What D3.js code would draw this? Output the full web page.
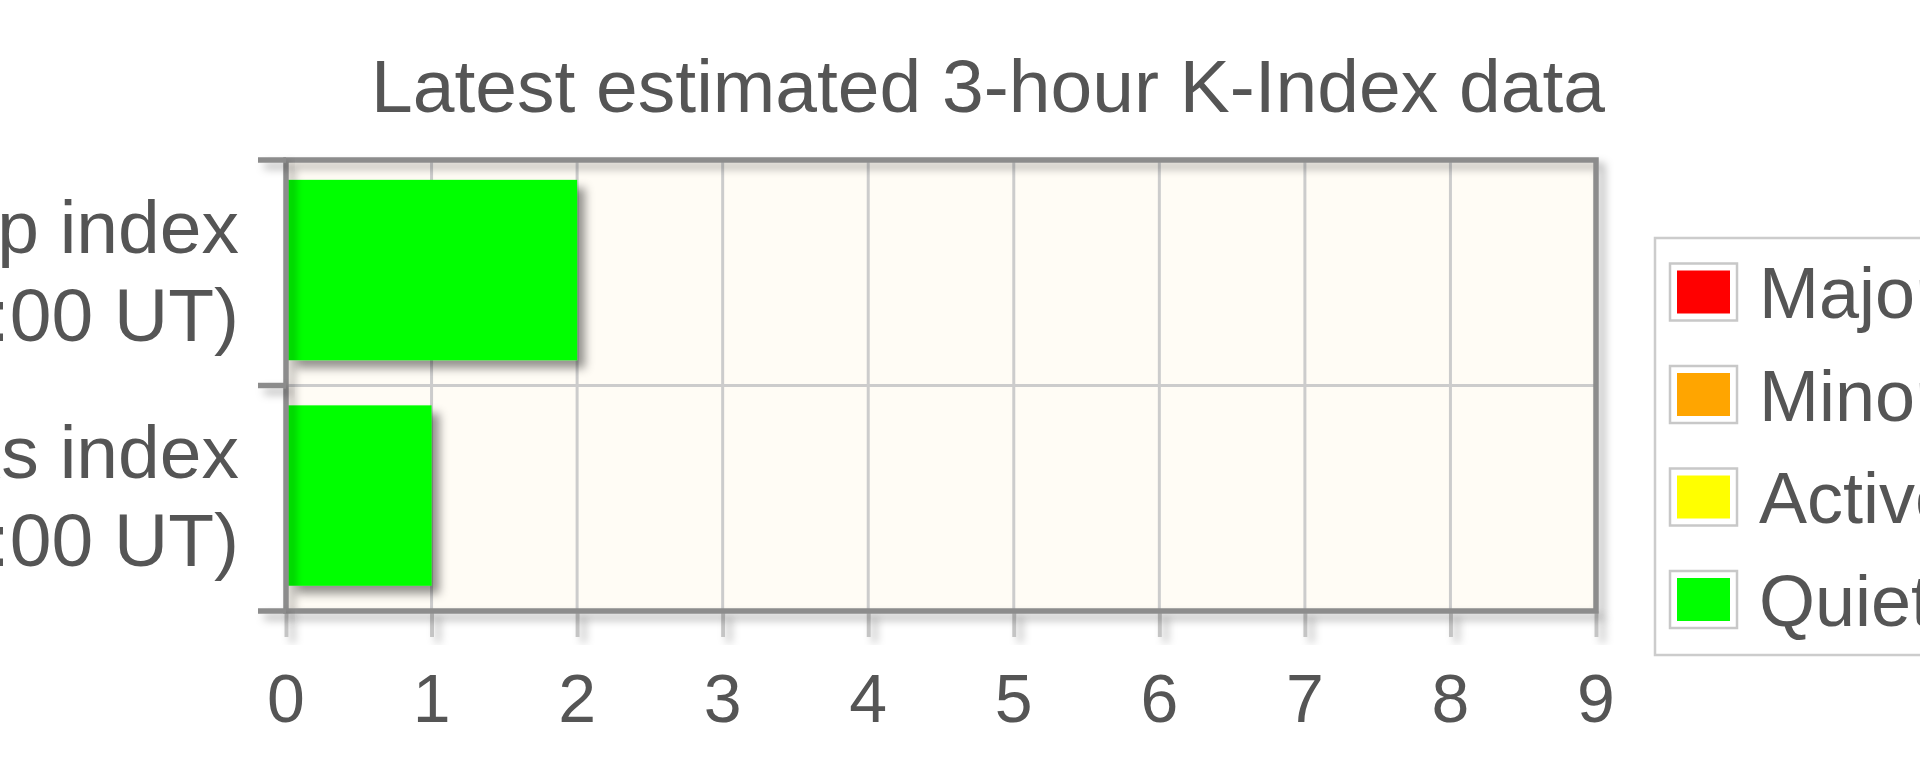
<!DOCTYPE html>
<html>
<head>
<meta charset="utf-8">
<script src="https://cdn.jsdelivr.net/npm/d3@7"></script>
<style>
  html, body { margin: 0; padding: 0; background: #fff; overflow: hidden; }
  text { font-family: "Liberation Sans", Arial, sans-serif; fill: #555; }
</style>
</head>
<body>
<svg id="chart" width="1920" height="768"></svg>
<script>
// data
var titleText = "Latest estimated 3-hour K-Index data";
var categories = ["Planetary Kp index", "Boulder Ks index"];
var categoryTimes = ["(12:00 UT)", "(12:00 UT)"];
var kValues = [2, 1];
var xTicks = [0, 1, 2, 3, 4, 5, 6, 7, 8, 9];
var levelNames = ["Major storm", "Minor storm", "Active", "Quiet"];
var levelColors = ["#ff0000", "#ffa500", "#ffff00", "#00ff00"];
var levelThresholds = [4, 5, 6]; // K below 4 quiet, 4 active, 5 minor, 6+ major

var plot = {left: 286, right: 1596, top: 160, bottom: 611};

var svg = d3.select("#chart");

var defs = svg.append("defs");
defs.append("filter").attr("id", "shadow")
    .attr("x", "-20%").attr("y", "-20%").attr("width", "150%").attr("height", "150%")
  .append("feDropShadow")
    .attr("dx", 8).attr("dy", 8).attr("stdDeviation", 5)
    .attr("flood-color", "#000").attr("flood-opacity", 0.42);
defs.append("filter").attr("id", "lineShadow")
    .attr("x", "-20%").attr("y", "-20%").attr("width", "150%").attr("height", "150%")
  .append("feDropShadow")
    .attr("dx", 6).attr("dy", 6).attr("stdDeviation", 4.5)
    .attr("flood-color", "#000").attr("flood-opacity", 0.3);

var x = d3.scaleLinear().domain([0, 9]).range([plot.left, plot.right]);
var yCat = d3.scaleBand().domain(categories).range([plot.top, plot.bottom]);
var yBar = d3.scaleBand().domain(categories).range([plot.top, plot.bottom])
    .paddingInner(0.2).paddingOuter(0.1).align(0.44);

var levelColor = d3.scaleThreshold().domain(levelThresholds)
    .range(levelColors.slice().reverse());

// plot background
svg.append("rect")
    .attr("x", plot.left).attr("y", plot.top)
    .attr("width", plot.right - plot.left).attr("height", plot.bottom - plot.top)
    .attr("fill", "#fffcf5");

// vertical grid lines
svg.append("g").selectAll("line")
    .data(xTicks.slice(1, -1))
    .enter().append("line")
    .attr("x1", d => x(d)).attr("x2", d => x(d))
    .attr("y1", plot.top).attr("y2", plot.bottom)
    .attr("stroke", "#cccccc").attr("stroke-width", 3);

// horizontal grid between categories
svg.append("g").selectAll("line")
    .data(categories.slice(1))
    .enter().append("line")
    .attr("x1", plot.left).attr("x2", plot.right)
    .attr("y1", d => yCat(d)).attr("y2", d => yCat(d))
    .attr("stroke", "#cccccc").attr("stroke-width", 3);

// bars
svg.append("g").selectAll("rect")
    .data(kValues)
    .enter().append("rect")
    .attr("x", x(0) + 2)
    .attr("y", (d, i) => yBar(categories[i]))
    .attr("width", d => x(d) - x(0) - 2)
    .attr("height", yBar.bandwidth())
    .attr("fill", d => levelColor(d))
    .attr("filter", "url(#shadow)");

// x axis tick marks below the plot
var xAxis = d3.axisBottom(x).tickValues(xTicks).tickSize(26).tickFormat("");
var gx = svg.append("g")
    .attr("transform", "translate(0," + plot.bottom + ")")
    .attr("filter", "url(#lineShadow)")
    .call(xAxis);
gx.select(".domain").remove();
gx.selectAll(".tick line").attr("stroke", "#c4c4c4").attr("stroke-width", 4);

// x tick labels
svg.append("g").selectAll("text")
    .data(xTicks)
    .enter().append("text")
    .attr("x", d => x(d))
    .attr("y", 722)
    .attr("text-anchor", "middle")
    .attr("font-size", 68)
    .text(d => d);

// plot frame
svg.append("rect")
    .attr("x", plot.left).attr("y", plot.top)
    .attr("width", plot.right - plot.left).attr("height", plot.bottom - plot.top)
    .attr("fill", "none")
    .attr("stroke", "#8c8c8c").attr("stroke-width", 5.5)
    .attr("filter", "url(#lineShadow)");

// category tick marks
var catEdges = categories.map(d => yCat(d)).concat([plot.bottom]);
svg.append("g").attr("filter", "url(#lineShadow)").selectAll("line")
    .data(catEdges)
    .enter().append("line")
    .attr("x1", plot.left - 28).attr("x2", plot.left)
    .attr("y1", d => d).attr("y2", d => d)
    .attr("stroke", "#8c8c8c").attr("stroke-width", 5.5);

// category labels
var catLabels = svg.append("g").selectAll("text")
    .data(categories)
    .enter().append("text")
    .attr("text-anchor", "end")
    .attr("font-size", 75);
catLabels.append("tspan")
    .attr("x", 239)
    .attr("y", d => yCat(d) + yCat.bandwidth() / 2 - 20)
    .text(d => d);
catLabels.append("tspan")
    .attr("x", 239)
    .attr("y", (d, i) => yCat(d) + yCat.bandwidth() / 2 + 68)
    .text((d, i) => categoryTimes[i]);

// title
svg.append("text")
    .attr("x", 988).attr("y", 112)
    .attr("text-anchor", "middle")
    .attr("font-size", 75)
    .text(titleText);

// legend
var legend = svg.append("g").attr("transform", "translate(1655,238)");
legend.append("rect")
    .attr("width", 420).attr("height", 417)
    .attr("fill", "#fff")
    .attr("stroke", "#cccccc").attr("stroke-width", 2.5);

var items = legend.selectAll(".item")
    .data(levelNames)
    .enter().append("g")
    .attr("class", "item")
    .attr("transform", (d, i) => "translate(15," + (54 + i * 102.5) + ")");
items.append("rect")
    .attr("x", 0).attr("y", -28.5)
    .attr("width", 67).attr("height", 57)
    .attr("fill", "#fff")
    .attr("stroke", "#c8c8c8").attr("stroke-width", 2.5);
items.append("rect")
    .attr("x", 7).attr("y", -21.5)
    .attr("width", 53).attr("height", 43)
    .attr("fill", (d, i) => levelColors[i]);
items.append("text")
    .attr("x", 89).attr("y", 26)
    .attr("font-size", 72)
    .text(d => d);
</script>
</body>
</html>
